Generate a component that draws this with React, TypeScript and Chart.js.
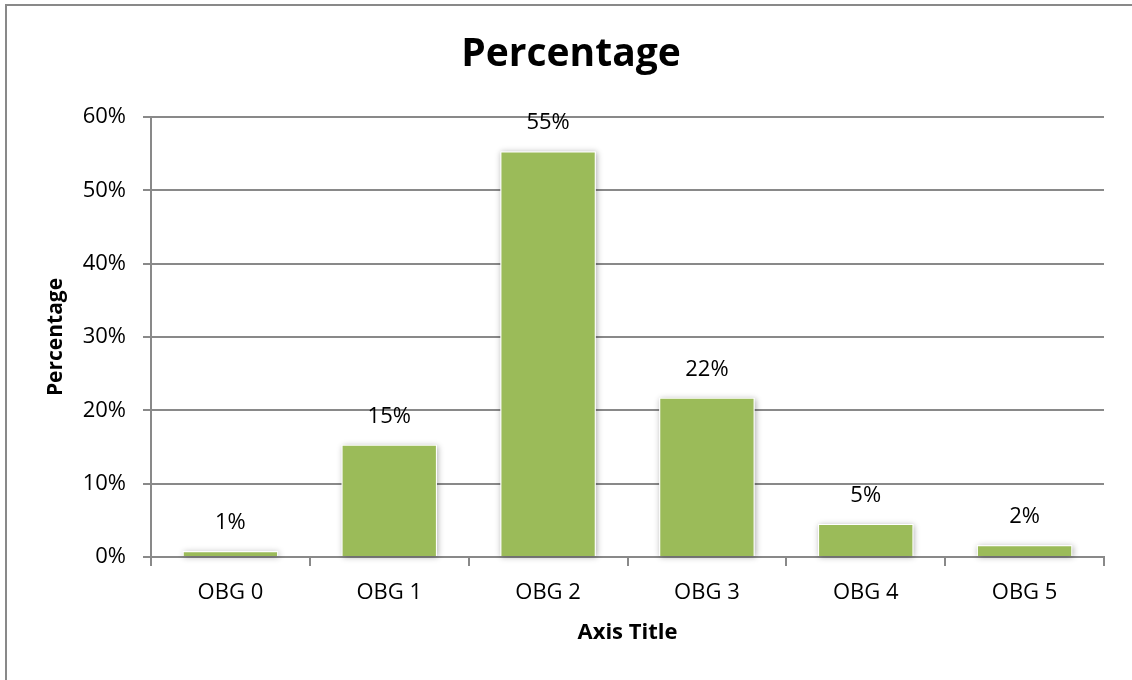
import React, { useEffect, useRef } from "react";
import { Chart, registerables } from "chart.js";

Chart.register(...registerables);

// Chart data
const categories = ["OBG 0", "OBG 1", "OBG 2", "OBG 3", "OBG 4", "OBG 5"];
const percentages = [0.8, 15.3, 55.3, 21.7, 4.5, 1.6];
const yTickValues = [0, 10, 20, 30, 40, 50, 60];

const chartTitle = "Percentage";
const yAxisTitle = "Percentage";
const xAxisTitle = "Axis Title";

const FONT = "'Open Sans', 'Liberation Sans', sans-serif";
const LINE = "#898989";
const BAR = "#9BBB59";

// Frame of the chart object (its left and top edges fall inside the page)
const chartFrame = {
  id: "chartFrame",
  beforeDraw(chart: any) {
    const ctx = chart.ctx;
    ctx.save();
    ctx.strokeStyle = LINE;
    ctx.lineWidth = 2;
    ctx.beginPath();
    ctx.moveTo(6, chart.height + 2);
    ctx.lineTo(6, 5);
    ctx.lineTo(chart.width + 2, 5);
    ctx.stroke();
    ctx.restore();
  },
};

// Soft shadow under every bar, drawn before the bars themselves
const barShadow = {
  id: "barShadow",
  beforeDatasetsDraw(chart: any) {
    const ctx = chart.ctx;
    const meta = chart.getDatasetMeta(0);
    ctx.save();
    ctx.shadowColor = "rgba(0,0,0,0.32)";
    ctx.shadowBlur = 6;
    ctx.shadowOffsetX = 1;
    ctx.shadowOffsetY = 1;
    ctx.fillStyle = "#ffffff";
    meta.data.forEach((el: any) => {
      const { x, y, base, width } = el.getProps(["x", "y", "base", "width"], true);
      ctx.fillRect(x - width / 2, y, width, base - y);
    });
    ctx.restore();
  },
};

// Percentage labels above the bars
const valueLabels = {
  id: "valueLabels",
  afterDatasetsDraw(chart: any) {
    const ctx = chart.ctx;
    const meta = chart.getDatasetMeta(0);
    const values = chart.data.datasets[0].data as number[];
    ctx.save();
    ctx.font = `22px ${FONT}`;
    ctx.fillStyle = "#000";
    ctx.textAlign = "center";
    ctx.textBaseline = "middle";
    meta.data.forEach((el: any, i: number) => {
      const { x, y } = el.getProps(["x", "y"], true);
      ctx.fillText(`${Math.round(values[i])}%`, x, y - 28.5);
    });
    ctx.restore();
  },
};

export default function App() {
  const canvasRef = useRef<HTMLCanvasElement | null>(null);

  useEffect(() => {
    if (!canvasRef.current) return;
    const chart = new Chart(canvasRef.current, {
      type: "bar",
      data: {
        labels: categories,
        datasets: [
          {
            data: percentages,
            backgroundColor: BAR,
            borderColor: "#ffffff",
            borderWidth: 1,
            barPercentage: 0.6,
            categoryPercentage: 1,
          },
        ],
      },
      options: {
        animation: false,
        responsive: true,
        maintainAspectRatio: false,
        layout: { padding: { top: 0, left: 38, right: 28, bottom: 23 } },
        plugins: {
          legend: { display: false },
          tooltip: { enabled: false },
          title: {
            display: true,
            text: chartTitle,
            color: "#000",
            font: { family: FONT, size: 39, weight: "bold" },
            padding: { top: 31, bottom: 39.2 },
          },
        },
        scales: {
          x: {
            offset: true,
            grid: {
              display: true,
              drawOnChartArea: false,
              drawTicks: true,
              tickLength: 9,
              offset: true,
              color: LINE,
              lineWidth: 2,
            },
            border: { display: true, color: LINE, width: 2 },
            ticks: {
              color: "#000",
              font: { family: FONT, size: 22 },
              padding: 13.5,
              maxRotation: 0,
            },
            title: {
              display: true,
              text: xAxisTitle,
              color: "#000",
              font: { family: FONT, size: 22, weight: "bold" },
              padding: { top: 0, bottom: 10.8 },
            },
            afterFit: (s: any) => {
              s.height = 100;
            },
          },
          y: {
            min: 0,
            max: 60,
            afterBuildTicks: (s: any) => {
              s.ticks = yTickValues.map((v) => ({ value: v }));
            },
            grid: {
              color: LINE,
              lineWidth: 2,
              drawTicks: true,
              tickLength: 8,
            },
            border: { display: true, color: LINE, width: 2 },
            ticks: {
              color: "#000",
              font: { family: FONT, size: 22 },
              padding: 17,
              callback: (v: any) => `${v}%`,
            },
            title: {
              display: true,
              text: yAxisTitle,
              color: "#000",
              font: { family: FONT, size: 21, weight: "bold" },
              padding: { top: 5.4, bottom: 0 },
            },
            afterFit: (s: any) => {
              s.width = 113;
            },
          },
        },
      },
      plugins: [chartFrame, barShadow, valueLabels],
    });
    return () => chart.destroy();
  }, []);

  return (
    <div
      style={{
        position: "absolute",
        left: 0,
        top: 0,
        width: 1132,
        height: 680,
        overflow: "hidden",
        background: "#ffffff",
      }}
    >
      <canvas ref={canvasRef} />
    </div>
  );
}
